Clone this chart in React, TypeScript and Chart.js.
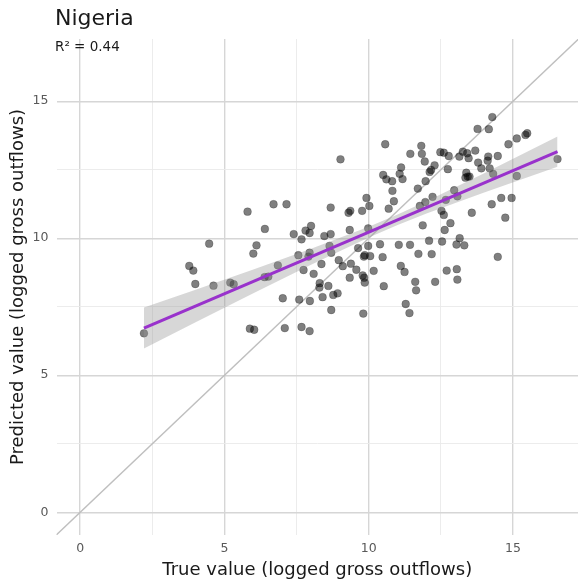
import React, { useEffect, useRef } from "react";
import { Chart, registerables } from "chart.js";

Chart.register(...registerables);

// ---- data ----
const trueValue = [
  9.02, 5.8, 6.7, 7.15, 8.68, 6.4, 7.4, 7.81, 8.0, 7.95, 7.67, 8.46, 8.68, 4.47, 6.11, 6.0, 7.56, 7.95, 7.91, 8.64,
  8.7, 3.78, 3.92, 6.85, 7.74, 8.36, 8.09, 8.96, 3.99, 4.62, 5.2, 5.32, 6.39, 6.52, 8.3, 8.29, 8.6, 8.77, 8.92, 7.02,
  7.59, 7.96, 8.4, 8.7, 5.88, 6.03, 7.09, 7.67, 7.95, 2.21,
  14.28, 13.77, 14.16, 15.49, 15.43, 15.13, 14.84, 10.57, 11.82, 11.44, 11.84, 12.48, 12.6, 12.77, 13.14, 13.26, 13.41,
  13.46, 13.69, 14.14, 14.12, 14.47, 13.79, 13.9, 14.19, 14.31, 16.54, 15.13, 11.94, 12.28, 12.16, 12.11, 12.74, 11.12,
  11.07, 11.17, 10.5, 10.61, 10.81, 11.97, 13.38, 13.43, 13.35, 13.49, 10.82, 11.7, 12.96, 10.87, 9.92, 10.02, 10.69,
  11.77, 11.96, 12.21, 12.67, 13.07, 14.59, 14.95, 14.26, 9.3, 9.36, 9.77, 12.52, 12.6, 13.57, 14.73, 12.83, 12.63,
  11.87, 9.34, 9.98, 10.39, 11.04, 11.43, 12.09, 12.54, 13.04, 13.15, 13.31, 9.63, 9.98, 9.83, 9.86, 10.05, 10.48,
  11.72, 12.18, 14.47, 9.1, 9.38, 9.57, 10.17, 11.11, 11.24, 12.7, 13.05, 13.07, 9.79, 9.84, 9.34, 9.86, 10.52, 11.61,
  11.64, 12.3, 11.28, 11.41, 9.81,
];
const predictedValue = [
  12.88, 10.97, 11.24, 11.24, 11.12, 10.34, 10.15, 10.28, 10.45, 10.19, 9.96, 10.08, 10.15, 9.8, 9.74, 9.44, 9.38, 9.47,
  9.33, 9.72, 9.47, 8.99, 8.82, 9.01, 8.84, 9.06, 8.7, 9.2, 8.33, 8.27, 8.38, 8.32, 8.58, 8.6, 8.36, 8.2, 8.26, 7.93,
  7.99, 7.81, 7.76, 7.71, 7.85, 7.38, 6.7, 6.66, 6.72, 6.76, 6.61, 6.53,
  14.42, 13.99, 13.98, 13.83, 13.77, 13.64, 13.43, 13.43, 13.37, 13.08, 13.08, 13.14, 13.12, 13.0, 12.98, 13.16, 13.1,
  12.92, 13.2, 12.98, 12.83, 13.0, 12.76, 12.55, 12.55, 12.35, 12.89, 12.27, 12.8, 12.66, 12.49, 12.42, 12.52, 12.58,
  12.35, 12.16, 12.31, 12.15, 12.08, 12.08, 12.39, 12.25, 12.21, 12.25, 11.73, 11.81, 11.75, 11.35, 11.47, 11.18, 11.08,
  11.18, 11.32, 11.51, 11.4, 11.53, 11.47, 11.47, 11.24, 10.93, 11.0, 11.0, 11.0, 10.85, 10.93, 10.75, 10.55, 10.3,
  10.47, 10.3, 10.36, 9.78, 9.76, 9.76, 9.91, 9.88, 9.77, 10.0, 9.74, 9.64, 9.72, 9.33, 9.38, 9.35, 9.31,
  9.43, 9.42, 9.32, 8.98, 9.07, 8.85, 8.81, 8.99, 8.77, 8.82, 8.87, 8.49, 8.64, 8.56, 8.56, 8.38, 8.25, 8.41,
  8.1, 8.41, 7.6, 7.27, 7.25,
];

const fitX = [2.21, 16.54];
const fitY = [6.72, 13.16];

const bandX = [2.21, 4, 6, 8, 10, 11, 12, 14, 16.54];
const bandLower = [5.98, 6.93, 7.99, 9.03, 10.03, 10.48, 10.9, 11.67, 12.61];
const bandUpper = [7.47, 8.12, 8.86, 9.62, 10.42, 10.87, 11.35, 12.37, 13.71];

const diagonalX = [-2, 19];

const axisMinX = -0.82;
const axisMaxX = 17.25;
const axisMinY = -0.83;
const axisMaxY = 17.27;

const gridTicks = [0, 2.5, 5, 7.5, 10, 12.5, 15];
const labeledTicks = [0, 5, 10, 15];

const titleText = "Nigeria";
const r2Text = "R² = 0.44";
const xTitle = "True value (logged gross outflows)";
const yTitle = "Predicted value (logged gross outflows)";

const FONT = "'DejaVu Sans', sans-serif";

export default function App() {
  const ref = useRef<HTMLCanvasElement | null>(null);

  useEffect(() => {
    if (!ref.current) return;
    const pts = trueValue.map((x, i) => ({ x, y: predictedValue[i] }));
    const fit = fitX.map((x, i) => ({ x, y: fitY[i] }));
    const lo = bandX.map((x, i) => ({ x, y: bandLower[i] }));
    const hi = bandX.map((x, i) => ({ x, y: bandUpper[i] }));
    const diag = diagonalX.map((x) => ({ x, y: x }));

    const textPlugin = {
      id: "texts",
      afterDraw(chart: any) {
        const ctx = chart.ctx;
        const ca = chart.chartArea;
        ctx.save();
        ctx.fillStyle = "#1a1a1a";
        ctx.textAlign = "left";
        ctx.textBaseline = "alphabetic";
        ctx.font = `22px ${FONT}`;
        ctx.fillText(titleText, 55, 25);
        ctx.font = `13.5px ${FONT}`;
        ctx.fillText(r2Text, 55, 51);
        ctx.font = `18px ${FONT}`;
        ctx.textAlign = "center";
        ctx.fillText(xTitle, (ca.left + ca.right) / 2, 575);
        ctx.translate(18, (ca.top + ca.bottom) / 2);
        ctx.rotate(-Math.PI / 2);
        ctx.textBaseline = "middle";
        ctx.fillText(yTitle, 0, 0);
        ctx.restore();
      },
    };

    const gridColor = (c: any) =>
      c.tick && labeledTicks.includes(c.tick.value) ? "#d6d6d6" : "#eaeaea";
    const gridWidth = (c: any) => (c.tick && labeledTicks.includes(c.tick.value) ? 1.4 : 0.9);
    const tickCb = (v: any) => (labeledTicks.includes(Number(v)) ? String(v) : "");

    const chart = new Chart(ref.current, {
      type: "scatter",
      data: {
        datasets: [
          {
            data: fit,
            showLine: true,
            borderColor: "#9932CC",
            borderWidth: 3.2,
            pointRadius: 0,
            clip: 0,
          } as any,
          {
            data: hi,
            showLine: true,
            borderWidth: 0,
            borderColor: "rgba(0,0,0,0)",
            pointRadius: 0,
            fill: { target: 2 },
            backgroundColor: "rgba(150,150,150,0.38)",
          } as any,
          {
            data: lo,
            showLine: true,
            borderWidth: 0,
            borderColor: "rgba(0,0,0,0)",
            pointRadius: 0,
          } as any,
          {
            data: pts,
            pointRadius: 3.9,
            backgroundColor: "rgba(0,0,0,0.5)",
            borderColor: "rgba(0,0,0,0.25)",
            borderWidth: 0.8,
          } as any,
          {
            data: diag,
            showLine: true,
            borderColor: "#bfbfbf",
            borderWidth: 1.5,
            pointRadius: 0,
            clip: 0,
          } as any,
        ],
      },
      options: {
        animation: false,
        responsive: false,
        devicePixelRatio: 1,
        layout: { autoPadding: false, padding: { top: 39, right: 0, bottom: 0, left: 0 } },
        plugins: {
          legend: { display: false },
          tooltip: { enabled: false },
          title: { display: false },
        },
        scales: {
          x: {
            type: "linear",
            min: axisMinX,
            max: axisMaxX,
            afterFit: (s: any) => {
              s.height = 50;
              s.paddingLeft = 0;
              s.paddingRight = 0;
            },
            afterBuildTicks: (s: any) => {
              s.ticks = gridTicks.map((v) => ({ value: v }));
            },
            grid: { color: gridColor, lineWidth: gridWidth, drawTicks: false },
            border: { display: false },
            ticks: {
              callback: tickCb,
              padding: 6,
              color: "#595959",
              font: { family: FONT, size: 12.5 },
              maxRotation: 0,
              autoSkip: false,
            },
          },
          y: {
            type: "linear",
            min: axisMinY,
            max: axisMaxY,
            afterFit: (s: any) => {
              s.width = 56.5;
              s.paddingTop = 0;
              s.paddingBottom = 0;
            },
            afterBuildTicks: (s: any) => {
              s.ticks = gridTicks.map((v) => ({ value: v }));
            },
            grid: { color: gridColor, lineWidth: gridWidth, drawTicks: false },
            border: { display: false },
            ticks: {
              callback: tickCb,
              padding: 8,
              color: "#595959",
              font: { family: FONT, size: 12.5 },
              autoSkip: false,
            },
          },
        },
      } as any,
      plugins: [textPlugin],
    });
    return () => chart.destroy();
  }, []);

  return (
    <div style={{ position: "absolute", left: 0, top: 0, width: 578, height: 585, background: "#fff" }}>
      <canvas ref={ref} width={578} height={585} style={{ display: "block", width: 578, height: 585 }} />
    </div>
  );
}
